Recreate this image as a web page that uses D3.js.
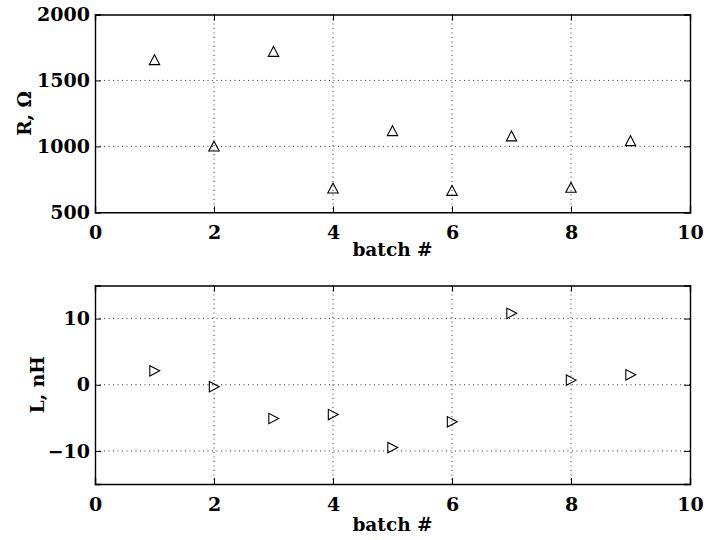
<!DOCTYPE html>
<html>
<head>
<meta charset="utf-8">
<script src="https://cdn.jsdelivr.net/npm/d3@7"></script>
<style>
  html, body { margin: 0; padding: 0; background: #fff; }
  svg { display: block; }
  .tick text { font-family: "DejaVu Serif", serif; font-weight: bold; font-size: 19px; fill: #000; }
  .lbl { font-family: "DejaVu Serif", serif; font-weight: bold; font-size: 18.5px; fill: #000; }
</style>
</head>
<body>
<script>
// Batch measurements: resistance and inductance per batch
const batches = [1, 2, 3, 4, 5, 6, 7, 8, 9];
const resistance = [1655, 1000, 1718, 682, 1117, 664, 1077, 687, 1041];
const inductance = [2.1, -0.3, -5.1, -4.5, -9.5, -5.6, 10.8, 0.7, 1.5];

const xTicks = [0, 2, 4, 6, 8, 10];
const rTicks = [500, 1000, 1500, 2000];
const lTicks = [-10, 0, 10];

const W = 707, H = 540;
const svg = d3.select("body").append("svg").attr("width", W).attr("height", H);

const left = 95, right = 690;

// Marker shapes, centred on their bounding box
const upTri = s => `M0,${-s}L${s},${s * 0.9}L${-s},${s * 0.9}Z`;
const rightTri = s => `M${s},0L${-s * 0.9},${-s}L${-s * 0.9},${s}Z`;

function panel(cfg) {
  const x = d3.scaleLinear().domain([0, 10]).range([left, right]);
  const y = d3.scaleLinear().domain(cfg.yDomain).range([cfg.bottom, cfg.top]);
  const g = svg.append("g");

  // dotted grid
  g.append("g").selectAll("line.gx").data(xTicks.filter(t => t > 0 && t < 10)).join("line")
    .attr("x1", d => x(d)).attr("x2", d => x(d))
    .attr("y1", cfg.top).attr("y2", cfg.bottom)
    .attr("stroke", "#000").attr("stroke-width", 0.8).attr("stroke-dasharray", "1,3.5");
  g.append("g").selectAll("line.gy").data(cfg.yTicks.filter(t => t > cfg.yDomain[0] && t < cfg.yDomain[1])).join("line")
    .attr("y1", d => y(d)).attr("y2", d => y(d))
    .attr("x1", left).attr("x2", right)
    .attr("stroke", "#000").attr("stroke-width", 0.8).attr("stroke-dasharray", "1,3.5");

  // axes with inward ticks on all four sides
  const tl = 6;
  const ax = [
    g.append("g").attr("transform", `translate(0,${cfg.bottom})`)
      .call(d3.axisBottom(x).tickValues(xTicks).tickSize(-tl).tickPadding(10).tickFormat(d3.format("d"))),
    g.append("g").attr("transform", `translate(0,${cfg.top})`)
      .call(d3.axisTop(x).tickValues(xTicks).tickSize(-tl).tickFormat("")),
    g.append("g").attr("transform", `translate(${left},0)`)
      .call(d3.axisLeft(y).tickValues(cfg.yTicks).tickSize(-tl).tickPadding(5)
        .tickFormat(d => d < 0 ? "\u2212" + Math.abs(d) : String(d))),
    g.append("g").attr("transform", `translate(${right},0)`)
      .call(d3.axisRight(y).tickValues(cfg.yTicks).tickSize(-tl).tickFormat(""))
  ];
  ax.forEach(a => {
    a.select(".domain").attr("stroke", "#000").attr("stroke-width", 1.4);
    a.selectAll(".tick line").attr("stroke", "#000").attr("stroke-width", 1);
  });
  ax[0].selectAll(".tick text").attr("dy", "0.9em");

  // markers
  g.append("g").selectAll("path").data(cfg.values).join("path")
    .attr("transform", (d, i) => `translate(${x(batches[i])},${y(d)})`)
    .attr("d", cfg.shape(5.2))
    .attr("fill", "none").attr("stroke", "#000").attr("stroke-width", 1.1);

  // labels
  svg.append("text").attr("class", "lbl").attr("text-anchor", "middle")
    .attr("x", (left + right) / 2).attr("y", cfg.xLabelY).text("batch #");
  svg.append("text").attr("class", "lbl").attr("text-anchor", "middle")
    .attr("transform", `translate(${cfg.yLabelX},${(cfg.top + cfg.bottom) / 2}) rotate(-90)`)
    .text(cfg.yLabel);
}

panel({
  top: 14.5, bottom: 212.3, yDomain: [500, 2000], yTicks: rTicks,
  values: resistance, shape: upTri, xLabelY: 256, yLabelX: 31, yLabel: "R, \u03A9"
});
panel({
  top: 285.5, bottom: 484, yDomain: [-15, 15], yTicks: lTicks,
  values: inductance, shape: rightTri, xLabelY: 531, yLabelX: 44, yLabel: "L, nH"
});
</script>
</body>
</html>
